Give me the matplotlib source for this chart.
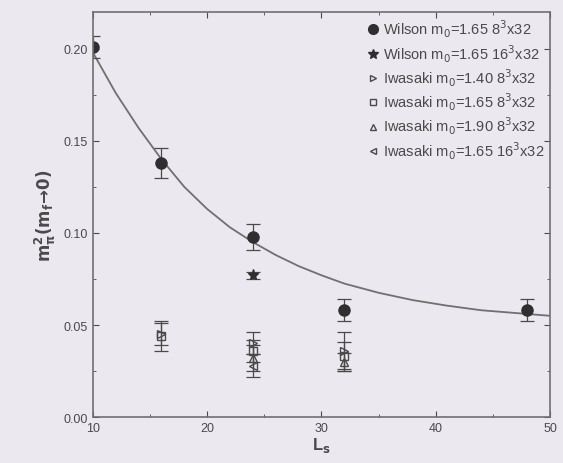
import numpy as np
import matplotlib.pyplot as plt
from matplotlib.ticker import MultipleLocator
from matplotlib.lines import Line2D

# Wilson m0=1.65, 8^3x32
L_w8 = [10, 16, 24, 32, 48]
m_w8 = [0.201, 0.138, 0.098, 0.058, 0.058]
e_w8 = [0.006, 0.008, 0.007, 0.006, 0.006]

# Wilson m0=1.65, 16^3x32
L_w16 = [24]
m_w16 = [0.077]
e_w16 = [0.002]

# Iwasaki runs
L_i140 = [16, 24, 32]
m_i140 = [0.045, 0.040, 0.036]
e_i140 = [0.006, 0.006, 0.010]

L_i165 = [16, 24, 32]
m_i165 = [0.044, 0.036, 0.033]
e_i165 = [0.008, 0.006, 0.008]

L_i190 = [24, 32]
m_i190 = [0.032, 0.030]
e_i190 = [0.007, 0.005]

L_i165b = [24]
m_i165b = [0.028]
e_i165b = [0.006]

# fit curve
L_fit = [10, 12, 14, 16, 18, 20, 22, 24, 26, 28, 30, 32, 35, 38, 41, 44, 47, 50]
m_fit = [0.198, 0.176, 0.157, 0.140, 0.125, 0.113, 0.103, 0.095, 0.088, 0.082,
         0.077, 0.0725, 0.0675, 0.0635, 0.0605, 0.058, 0.0565, 0.055]

bg = '#ece8ef'
ink = '#4a4a4a'
dark = '#2f2f2f'

plt.rcParams['font.family'] = ['Liberation Sans', 'DejaVu Sans']
fig = plt.figure(figsize=(5.63, 4.64), dpi=100, facecolor=bg)
ax = fig.add_axes([0.165, 0.099, 0.812, 0.873], facecolor=bg)

ax.plot(L_fit, m_fit, color='#707070', lw=1.3, zorder=1)

kw = dict(ls='none', ecolor=ink, elinewidth=0.9, capsize=5, capthick=0.9)
series = [
    (L_w8, m_w8, e_w8, 'o', 8, dark, r'Wilson m$_0$=1.65 8$^3$x32'),
    (L_w16, m_w16, e_w16, '*', 8, dark, r'Wilson m$_0$=1.65 16$^3$x32'),
    (L_i140, m_i140, e_i140, '>', 6, 'none', r'Iwasaki m$_0$=1.40 8$^3$x32'),
    (L_i165, m_i165, e_i165, 's', 6, 'none', r'Iwasaki m$_0$=1.65 8$^3$x32'),
    (L_i190, m_i190, e_i190, '^', 6, 'none', r'Iwasaki m$_0$=1.90 8$^3$x32'),
    (L_i165b, m_i165b, e_i165b, '<', 6, 'none', r'Iwasaki m$_0$=1.65 16$^3$x32'),
]
handles = []
for x, y, e, mk, ms, fc, lab in series:
    ec = dark if fc != 'none' else ink
    ax.errorbar(x, y, yerr=e, fmt=mk, ms=ms, mfc=fc, mec=ec, **kw)
    handles.append(Line2D([], [], ls='none', marker=mk, ms=ms - 1, mfc=fc,
                          mec=ec, label=lab))

ax.set_xlim(10, 50)
ax.set_ylim(0, 0.22)
ax.xaxis.set_major_locator(MultipleLocator(10))
ax.xaxis.set_minor_locator(MultipleLocator(5))
ax.yaxis.set_major_locator(MultipleLocator(0.05))
ax.yaxis.set_minor_locator(MultipleLocator(0.025))
ax.yaxis.set_major_formatter(plt.FuncFormatter(lambda v, p: f'{v:.2f}'))
ax.tick_params(which='both', direction='in', top=True, right=True, colors=ink,
               labelsize=9)
ax.tick_params(which='major', length=4)
ax.tick_params(which='minor', length=2)
for s in ax.spines.values():
    s.set_color('#707070')
    s.set_linewidth(1.2)

ax.set_xlabel(r'L$_\mathbf{s}$', fontsize=12, fontweight='bold', color=ink, labelpad=1)
ax.set_ylabel(r'$\mathbf{m_\pi^2(m_f\!\rightarrow\!0)}$', fontsize=12, color=ink, labelpad=4)

ax.legend(handles=handles, loc='upper right', frameon=False, fontsize=10.5,
          handlelength=0.8, handletextpad=0.3, labelspacing=0.2,
          borderaxespad=0.0, labelcolor=ink)

fig.savefig('out.png', dpi=100, facecolor=bg)
